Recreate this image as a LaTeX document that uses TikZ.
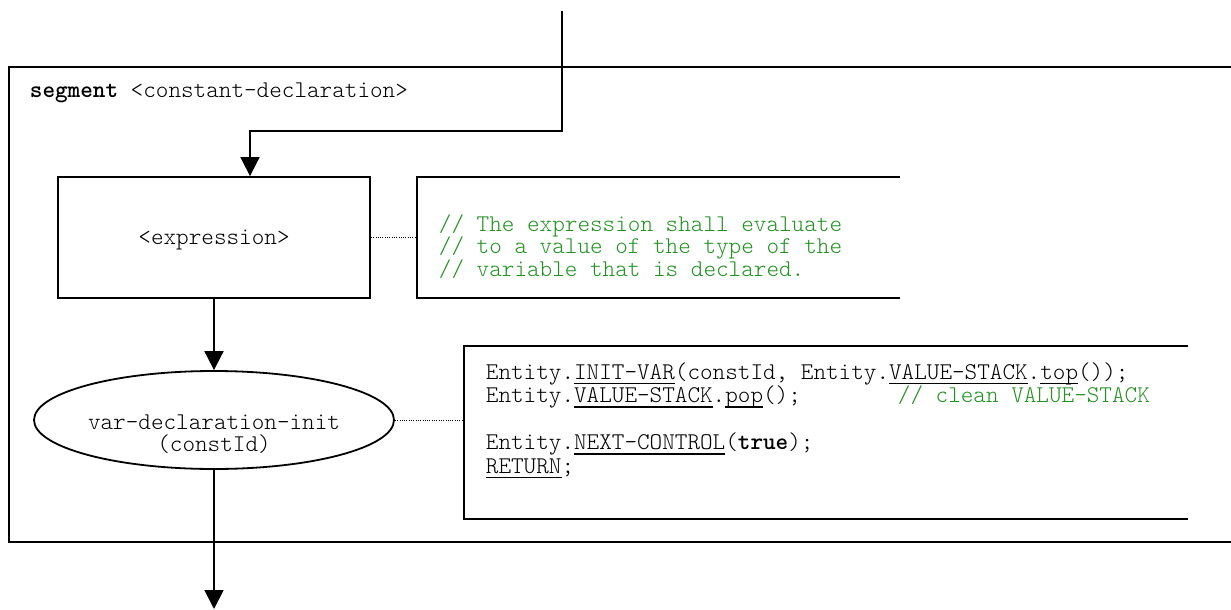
\documentclass[tikz,border=0pt]{standalone}
\usepackage{fontspec}
\setmainfont{Latin Modern Mono Light}
\usetikzlibrary{arrows.meta,shapes.geometric}
\definecolor{cgreen}{RGB}{34,145,34}
\newcommand\myul[1]{\setbox0\hbox{#1}\rlap{\rule[-5pt]{\wd0}{1.3pt}}\box0}
\begin{document}
\begin{tikzpicture}[x=1pt,y=-1pt,line width=1.8pt,
  font=\fontsize{24}{26}\selectfont,
  arr/.style={-{Triangle[length=19pt,width=19pt]}},
  dotl/.style={line width=1pt,dash pattern=on 1pt off 1.3pt},
  txt/.style={anchor=base west,inner sep=0},
  ctxt/.style={anchor=base,inner sep=0},
  cmtxt/.style={anchor=base west,inner sep=0,text=cgreen}]
\useasboundingbox (0,0) rectangle (1231,610);
\clip (0,0) rectangle (1231,610);
% frame
\draw (1245,67) -- (9,67) -- (9,542) -- (1245,542);
\node[txt] (seg) at (29,97) {\textbf{segment} <constant-declaration>};
% expression box
\node[draw,minimum width=312,minimum height=121,inner sep=0] (expr) at (214,237.5) {};
\node[ctxt] (exprt) at (214,244) {<expression>};
% comment box
\node[minimum width=481,minimum height=119,inner sep=0] (cmt) at (658.5,237.5) {};
\draw (cmt.north east) -- (cmt.north west) -- (cmt.south west) -- (cmt.south east);
\node[cmtxt] (cm1) at (438,231) {// The expression shall evaluate};
\node[cmtxt] (cm2) at (438,253.5) {// to a value of the type of the};
\node[cmtxt] (cm3) at (438,276) {// variable that is declared.};
% ellipse
\node[draw,ellipse,minimum width=360,minimum height=98,inner sep=0] (ell) at (214,420) {};
\node[ctxt] (el1) at (214,429) {var-declaration-init};
\node[ctxt] (el2) at (214,451.5) {(constId)};
% code box
\node[minimum width=722,minimum height=171,inner sep=0] (code) at (826,432.5) {};
\draw (code.north east) -- (code.north west) -- (code.south west) -- (code.south east);
\node[txt] (c1) at (485,379) {Entity.\myul{INIT-VAR}(constId, Entity.\myul{VALUE-STACK}.\myul{top}());};
\node[txt] (c2) at (485,402.5) {\makebox[412pt][l]{Entity.\myul{VALUE-STACK}.\myul{pop}();}\textcolor{cgreen}{// clean VALUE-STACK}};
\node[txt] (c4) at (485,449.5) {Entity.\myul{NEXT-CONTROL}(\textbf{true});};
\node[txt] (c5) at (485,473) {\myul{RETURN};};
% connectors
\coordinate (in) at (562,11);
\coordinate (out) at (214,609);
\draw[arr] (in) -- ++(0,120) -| ([xshift=36pt]expr.north);
\draw[arr] (expr.south) -- (ell.north);
\draw[arr] (ell.south) -- (out);
\draw[dotl] (expr.east) -- (cmt.west);
\draw[dotl] (ell.east) -- (code.west |- ell.east);
\end{tikzpicture}
\end{document}
